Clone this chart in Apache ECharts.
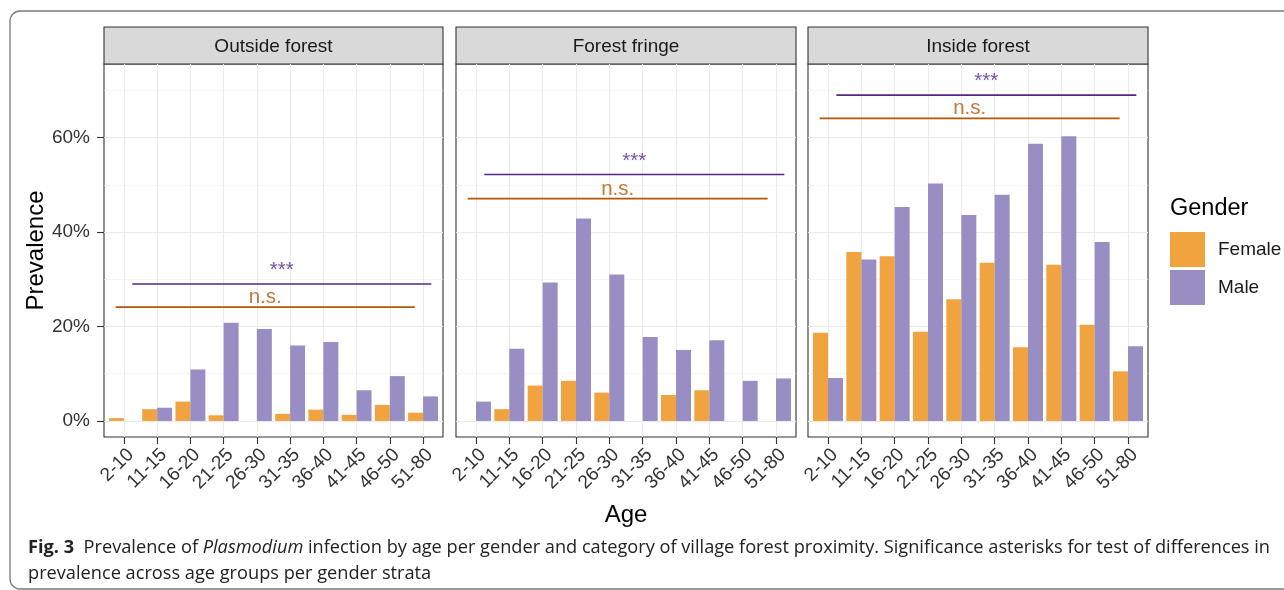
<!DOCTYPE html>
<html><head><meta charset="utf-8">
<script src="https://cdn.jsdelivr.net/npm/echarts@6/dist/echarts.min.js"></script>
<style>html,body{margin:0;padding:0;background:#fff}#c{width:1284px;height:590px}</style>
</head><body><div id="c"></div><script>
// ---- data ----
const ageGroups = ['2-10','11-15','16-20','21-25','26-30','31-35','36-40','41-45','46-50','51-80'];
const panelNames = ['Outside forest','Forest fringe','Inside forest'];
const femaleOutside = [0.6, 2.5, 4.1, 1.2, null, 1.5, 2.4, 1.3, 3.4, 1.75];
const maleOutside   = [null, 2.8, 10.9, 20.8, 19.5, 16.0, 16.7, 6.5, 9.5, 5.2];
const femaleFringe  = [null, 2.5, 7.5, 8.5, 6.0, null, 5.5, 6.5, null, null];
const maleFringe    = [4.1, 15.3, 29.3, 42.9, 31.0, 17.8, 15.0, 17.1, 8.5, 9.0];
const femaleInside  = [18.7, 35.8, 34.9, 18.9, 25.8, 33.5, 15.6, 33.1, 20.4, 10.5];
const maleInside    = [9.1, 34.2, 45.3, 50.3, 43.6, 47.9, 58.7, 60.3, 37.9, 15.8];
const femaleSigY = [24.1, 47.1, 64.1];
const maleSigY   = [29.0, 52.2, 69.0];
const femaleSigSpan = [-0.25, 8.75];
const maleSigSpan   = [0.25, 9.25];
const femaleSigLabel = 'n.s.';
const maleSigLabel = '***';
const yMajorTicks = [0, 20, 40, 60];
const yMinorTicks = [10, 30, 50, 70];
const genders = ['Female', 'Male'];

// ---- style / layout ----
const femaleData = [femaleOutside, femaleFringe, femaleInside];
const maleData = [maleOutside, maleFringe, maleInside];
const FEMALE = '#F1A340', MALE = '#998EC3';
const FEMALE_SIG = '#B35806', MALE_SIG = '#542788';
const FONT = '"Liberation Sans", Arial, sans-serif';
const panelLeft = [104, 456, 808];
const panelWidth = [339, 340, 340];
const plotTop = 64, plotHeight = 373;
const stripTop = 27, stripH = 37;
const catIdx = ageGroups.map((_, i) => i);

const grids = [], xAxes = [], yAxes = [], series = [], graphics = [];
panelNames.forEach((name, p) => {
  grids.push({left: panelLeft[p], top: plotTop, width: panelWidth[p], height: plotHeight,
    show: true, borderColor: '#333', borderWidth: 1.1, backgroundColor: '#fff',
    containLabel: false, outerBoundsMode: 'none'});
  xAxes.push({type: 'value', gridIndex: p, min: -0.6, max: 9.6, position: 'bottom',
    axisLine: {show: false, onZero: false},
    axisTick: {show: true, length: 7, customValues: catIdx, lineStyle: {color: '#333', width: 1.1}},
    axisLabel: {show: true, customValues: catIdx, rotate: 45, margin: 8, verticalAlign: 'top', align: 'right',
      formatter: v => ageGroups[Math.round(v)], fontSize: 19, color: '#333', fontFamily: FONT},
    splitLine: {show: true, lineStyle: {color: '#EBEBEB', width: 1.1}}});
  // major y
  yAxes.push({type: 'value', gridIndex: p, min: -3.4, max: 75.6, position: 'left',
    axisLine: {show: false, onZero: false},
    axisTick: {show: p === 0, length: 7, customValues: yMajorTicks, lineStyle: {color: '#333', width: 1.1}},
    axisLabel: {show: p === 0, customValues: yMajorTicks, margin: 14, formatter: v => v + '%',
      fontSize: 19, color: '#333', fontFamily: FONT},
    splitLine: {show: true, lineStyle: {color: '#EBEBEB', width: 1.1}},
    name: p === 0 ? 'Prevalence' : '', nameLocation: 'middle', nameGap: 56,
    nameTextStyle: {fontSize: 24, color: '#000', fontFamily: FONT}});
  // minor y
  yAxes.push({type: 'value', gridIndex: p, min: -3.4, max: 75.6, position: 'left',
    axisLine: {show: false, onZero: false},
    axisTick: {show: false, customValues: yMinorTicks},
    axisLabel: {show: false, customValues: yMinorTicks},
    splitLine: {show: true, lineStyle: {color: '#F0F0F0', width: 0.6}}});
  const yi = p * 2;
  series.push({name: genders[0], type: 'bar', xAxisIndex: p, yAxisIndex: yi, barWidth: '45%', barGap: '0%',
    itemStyle: {color: FEMALE}, silent: true, z: 3,
    data: femaleData[p].map((v, i) => [i, v]).filter(d => d[1] !== null)});
  series.push({name: genders[1], type: 'bar', xAxisIndex: p, yAxisIndex: yi, barWidth: '45%', barGap: '0%',
    itemStyle: {color: MALE}, silent: true, z: 3,
    data: maleData[p].map((v, i) => [i, v]).filter(d => d[1] !== null)});
  series.push({type: 'line', xAxisIndex: p, yAxisIndex: yi, symbol: 'none', silent: true, z: 4,
    lineStyle: {color: FEMALE_SIG, width: 1.7},
    data: femaleSigSpan.map(x => [x, femaleSigY[p]])});
  series.push({type: 'line', xAxisIndex: p, yAxisIndex: yi, symbol: 'none', silent: true, z: 4,
    lineStyle: {color: MALE_SIG, width: 1.7},
    data: maleSigSpan.map(x => [x, maleSigY[p]])});
  series.push({type: 'scatter', xAxisIndex: p, yAxisIndex: yi, symbolSize: 0, silent: true, z: 5,
    label: {show: true, position: 'top', distance: -1, formatter: femaleSigLabel,
      fontSize: 20.5, color: FEMALE_SIG, fontFamily: FONT},
    data: [[(femaleSigSpan[0] + femaleSigSpan[1]) / 2, femaleSigY[p]]]});
  series.push({type: 'scatter', xAxisIndex: p, yAxisIndex: yi, symbolSize: 0, silent: true, z: 5,
    label: {show: true, position: 'top', distance: 3, formatter: maleSigLabel,
      fontSize: 20.5, color: MALE_SIG, fontFamily: FONT},
    data: [[(maleSigSpan[0] + maleSigSpan[1]) / 2, maleSigY[p]]]});
  // strip
  graphics.push({type: 'rect', shape: {x: panelLeft[p], y: stripTop, width: panelWidth[p], height: stripH},
    style: {fill: '#D9D9D9', stroke: '#333', lineWidth: 1.1}, silent: true});
  graphics.push({type: 'text', x: panelLeft[p] + panelWidth[p] / 2, y: stripTop + stripH / 2 + 1,
    style: {text: name, fontSize: 19, fill: '#1A1A1A', fontFamily: FONT, align: 'center', verticalAlign: 'middle'}});
});

graphics.push({type: 'rect', shape: {x: 10, y: 11, width: 1300, height: 578, r: 10},
  style: {fill: 'none', stroke: '#7A7A7A', lineWidth: 1.3}, silent: true, z: -10});
graphics.push({type: 'text', x: 626, y: 515, style: {text: 'Age', fontSize: 24, fill: '#000',
  fontFamily: FONT, align: 'center', verticalAlign: 'middle'}});
graphics.push({type: 'text', x: 1170, y: 209, style: {text: 'Gender', fontSize: 23.5, fill: '#000',
  fontFamily: FONT, align: 'left', verticalAlign: 'middle'}});
const CAP_FONT = '"Open Sans", "Noto Sans", sans-serif';
const CAP_SIZE = 18.2;
graphics.push({type: 'text', x: 28, y: 548, style: {
  text: '{b|Fig. 3}  Prevalence of {i|Plasmodium} infection by age per gender and category of village forest proximity. Significance asterisks for test of differences in',
  fontSize: CAP_SIZE, fill: '#222', fontFamily: CAP_FONT, verticalAlign: 'middle',
  rich: {b: {fontWeight: 'bold', fontSize: CAP_SIZE, fontFamily: CAP_FONT, fill: '#222'},
         i: {fontStyle: 'italic', fontSize: CAP_SIZE, fontFamily: CAP_FONT, fill: '#222'}}}});
graphics.push({type: 'text', x: 28, y: 574, style: {
  text: 'prevalence across age groups per gender strata',
  fontSize: CAP_SIZE, fill: '#222', fontFamily: CAP_FONT, verticalAlign: 'middle'}});

const chart = echarts.init(document.getElementById('c'), null, {renderer: 'canvas'});
chart.setOption({
  animation: false,
  backgroundColor: '#fff',
  grid: grids, xAxis: xAxes, yAxis: yAxes, series: series,
  legend: {data: genders, orient: 'vertical', left: 1170, top: 232, padding: 0,
    itemWidth: 35, itemHeight: 35, itemGap: 3, icon: 'rect', selectedMode: false,
    textStyle: {fontSize: 19, color: '#1A1A1A', fontFamily: FONT, padding: [0, 0, 0, 8]}},
  graphic: graphics
});
</script></body></html>
